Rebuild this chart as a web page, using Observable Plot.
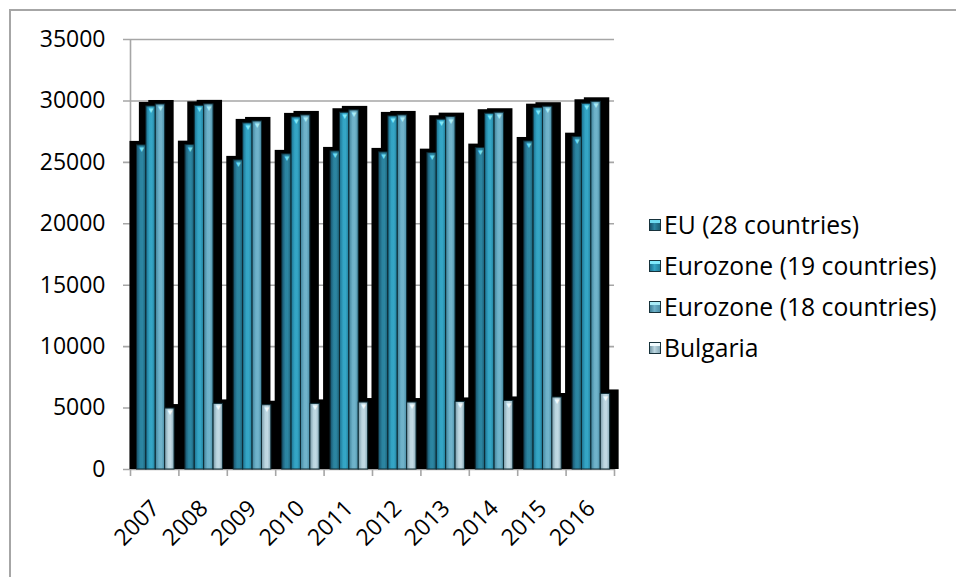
<!DOCTYPE html>
<html>
<head>
<meta charset="utf-8">
<script src="https://cdn.jsdelivr.net/npm/d3@7"></script>
<script src="https://cdn.jsdelivr.net/npm/@observablehq/plot@0.6"></script>
<style>
  body { margin: 0; background: #fff; }
  #wrap { position: relative; width: 956px; height: 577px; overflow: hidden; font-family: "Open Sans", sans-serif; }
  #chart { position: absolute; left: 0; top: 0; }
  #frame { position: absolute; left: 9px; top: 9px; width: 2000px; height: 2000px;
           border-left: 2px solid #a6a6a6; border-top: 2px solid #a6a6a6; pointer-events: none; }
  #legend { position: absolute; left: 649px; top: 204px; }
  .item { display: flex; align-items: center; height: 41px; font-size: 24.7px; color: #000; white-space: nowrap; }
  .sw { width: 10px; height: 10px; margin-right: 3px; border: 1px solid #17323b; flex: none; }
</style>
</head>
<body>
<div id="wrap">
  <div id="chart"></div>
  <div id="legend"></div>
  <div id="frame"></div>
</div>
<script>
// ---- data ----
const years = [2007, 2008, 2009, 2010, 2011, 2012, 2013, 2014, 2015, 2016];
const seriesNames = ["EU (28 countries)", "Eurozone (19 countries)", "Eurozone (18 countries)", "Bulgaria"];
const eu28     = [26380, 26400, 25160, 25650, 25890, 25810, 25750, 26160, 26700, 27050];
const ez19     = [29550, 29600, 28170, 28660, 29040, 28740, 28470, 28960, 29410, 29770];
const ez18     = [29710, 29720, 28330, 28820, 29230, 28820, 28680, 29040, 29530, 29930];
const bulgaria = [4960, 5340, 5230, 5340, 5450, 5450, 5500, 5580, 5860, 6150];
const yTicks   = [0, 5000, 10000, 15000, 20000, 25000, 30000, 35000];

// ---- styles ----
const gradStops = [
  [["0", "#17506a"], ["0.4", "#2b84a0"], ["0.65", "#2c86a2"], ["1", "#1b5d73"]],
  [["0", "#1c7190"], ["0.4", "#33a4c4"], ["0.65", "#35a6c6"], ["1", "#207d9a"]],
  [["0", "#3f8199"], ["0.4", "#6db1c9"], ["0.65", "#71b4cb"], ["1", "#4a8ea7"]],
  [["0", "#7799a7"], ["0.4", "#bcd6e0"], ["0.65", "#c2dae4"], ["1", "#88aab8"]]
];
const capColors = ["#6fdcf2", "#7fe8fb", "#a9ecf8", "#f2fcff"];
const groupStart = 0.134, barFrac = 0.194;

// ---- table built from the arrays ----
const valuesBySeries = [eu28, ez19, ez18, bulgaria];
const rows = [];
valuesBySeries.forEach((vals, s) => {
  years.forEach((yr, i) => {
    const x1 = yr - 0.5 + groupStart + s * barFrac;
    rows.push({year: yr, series: seriesNames[s], s, value: vals[i], x1, x2: x1 + barFrac});
  });
});
const boundaries = years.map(y => y - 0.5).concat([years[years.length - 1] + 0.5]);
const xDomain = [boundaries[0], boundaries[boundaries.length - 1]];

const gray = "#a6a6a6";

const svg = Plot.plot({
  width: 956,
  height: 577,
  marginLeft: 130,
  marginRight: 342,
  marginTop: 39,
  marginBottom: 108,
  style: {fontFamily: "'Open Sans', sans-serif", fontSize: "23px", color: "#000", background: "transparent"},
  x: {domain: xDomain, axis: null},
  y: {domain: [0, 35000], ticks: yTicks, tickSize: 0, tickPadding: 25, tickFormat: d => String(d), label: null},
  color: {type: "identity"},
  marks: [
    // gridlines (extended left to form the y ticks)
    Plot.ruleY(yTicks, {x1: xDomain[0], x2: xDomain[1], stroke: gray, strokeWidth: 1.6, insetLeft: -7}),
    // y axis line
    Plot.ruleX([xDomain[0]], {y1: 0, y2: 35000, stroke: gray, strokeWidth: 1.6}),
    // x ticks at category boundaries
    Plot.ruleX(boundaries, {y1: 0, y2: 0, insetBottom: -7, stroke: gray, strokeWidth: 1.6}),
    // shadows
    Plot.rect(rows, {x1: "x1", x2: "x2", y1: 0, y2: "value", fill: "#000",
      insetLeft: -7, insetRight: -9, insetTop: -4}),
    // bars
    Plot.rect(rows, {x1: "x1", x2: "x2", y1: 0, y2: "value",
      fill: d => `url(#grad${d.s})`, stroke: "#0d2a33", strokeWidth: 1}),
    // bevel caps
    Plot.text(rows, {x: d => (d.x1 + d.x2) / 2, y: "value", text: () => "\u25BC",
      fill: d => capColors[d.s], fontSize: 8, dy: 4}),
    // x labels
    Plot.text(years, {x: d => d, y: 0, text: d => String(d), rotate: -45, textAnchor: "end",
      fontSize: 23, dy: 35, dx: 1, fill: "#000"})
  ]
});

// gradient defs
const NS = "http://www.w3.org/2000/svg";
const defs = document.createElementNS(NS, "defs");
gradStops.forEach((stops, s) => {
  const g = document.createElementNS(NS, "linearGradient");
  g.setAttribute("id", "grad" + s);
  g.setAttribute("x1", "0"); g.setAttribute("x2", "1");
  g.setAttribute("y1", "0"); g.setAttribute("y2", "0");
  stops.forEach(([o, c]) => {
    const st = document.createElementNS(NS, "stop");
    st.setAttribute("offset", o);
    st.setAttribute("stop-color", c);
    g.appendChild(st);
  });
  defs.appendChild(g);
});
svg.insertBefore(defs, svg.firstChild);
document.getElementById("chart").appendChild(svg);

// legend
const legend = document.getElementById("legend");
seriesNames.forEach((name, s) => {
  const item = document.createElement("div");
  item.className = "item";
  const sw = document.createElement("span");
  sw.className = "sw";
  const st = gradStops[s];
  sw.style.background = `linear-gradient(180deg, ${capColors[s]} 0 30%, transparent 30%), linear-gradient(90deg, ${st[0][1]}, ${st[1][1]} 45%, ${st[3][1]})`;
  const tx = document.createElement("span");
  tx.textContent = name;
  item.appendChild(sw);
  item.appendChild(tx);
  legend.appendChild(item);
});
</script>
</body>
</html>
